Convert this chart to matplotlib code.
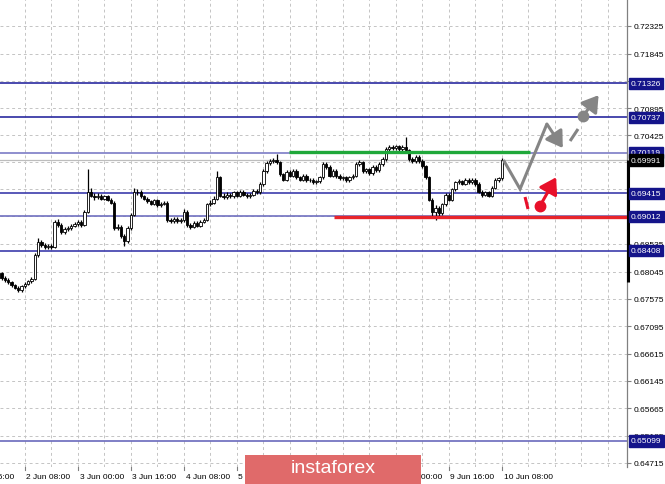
import matplotlib
matplotlib.use("Agg")
import matplotlib.pyplot as plt
from matplotlib.transforms import blended_transform_factory
from matplotlib.patches import Rectangle, FancyArrowPatch

# ---------------- data ----------------
first_open = 0.6802
closes = [
    0.6793, 0.6790, 0.6786, 0.6781, 0.6777, 0.6772, 0.6779, 0.6784, 0.6788, 0.6792,
    0.6834, 0.6857, 0.6851, 0.6848, 0.6849, 0.6848, 0.6892, 0.6886, 0.6874, 0.6879,
    0.6881, 0.6885, 0.6888, 0.6892, 0.6886, 0.6909, 0.6944, 0.6937, 0.6934, 0.6937,
    0.6932, 0.6936, 0.6930, 0.6925, 0.6881, 0.6883, 0.6867, 0.6858, 0.6881, 0.6904,
    0.6943, 0.6944, 0.6936, 0.6932, 0.6927, 0.6923, 0.6929, 0.6920, 0.6923, 0.6925,
    0.6895, 0.6893, 0.6897, 0.6893, 0.6895, 0.6909, 0.6886, 0.6883, 0.6890, 0.6885,
    0.6892, 0.6895, 0.6922, 0.6925, 0.6932, 0.6969, 0.6937, 0.6934, 0.6939, 0.6936,
    0.6943, 0.6937, 0.6944, 0.6939, 0.6936, 0.6939, 0.6946, 0.6943, 0.6957, 0.6980,
    0.6994, 0.6997, 0.6999, 0.6995, 0.6974, 0.6965, 0.6978, 0.6972, 0.6980, 0.6969,
    0.6965, 0.6972, 0.6964, 0.6965, 0.6960, 0.6962, 0.6969, 0.6992, 0.6987, 0.6972,
    0.6980, 0.6971, 0.6967, 0.6969, 0.6964, 0.6969, 0.6972, 0.6992, 0.6995, 0.6980,
    0.6983, 0.6976, 0.6987, 0.6981, 0.6992, 0.7001, 0.7018, 0.7022, 0.7020, 0.7023,
    0.7018, 0.7022, 0.7016, 0.7001, 0.6997, 0.7004, 0.6997, 0.6988, 0.6969, 0.6930,
    0.6909, 0.6916, 0.6906, 0.6922, 0.6939, 0.6930, 0.6948, 0.6960, 0.6962, 0.6958,
    0.6964, 0.6960, 0.6965, 0.6957, 0.6944, 0.6939, 0.6943, 0.6937, 0.6951, 0.6964,
    0.6967, 0.69991,
]
highs = [
    0.6804, 0.6797, 0.6793, 0.6789, 0.6784, 0.6780, 0.6782, 0.6787, 0.6791, 0.6795,
    0.6837, 0.6864, 0.6860, 0.6855, 0.6853, 0.6852, 0.6895, 0.6896, 0.6889, 0.6882,
    0.6884, 0.6888, 0.6891, 0.6895, 0.6895, 0.6912, 0.6983, 0.6950, 0.6941, 0.6941,
    0.6940, 0.6939, 0.6939, 0.6933, 0.6928, 0.6887, 0.6886, 0.6870, 0.6884, 0.6907,
    0.6951, 0.6949, 0.6947, 0.6939, 0.6935, 0.6930, 0.6932, 0.6932, 0.6926, 0.6928,
    0.6928, 0.6898, 0.6900, 0.6900, 0.6898, 0.6913, 0.6912, 0.6889, 0.6893, 0.6893,
    0.6895, 0.6898, 0.6925, 0.6929, 0.6936, 0.6980, 0.6972, 0.6941, 0.6943, 0.6942,
    0.6946, 0.6946, 0.6947, 0.6947, 0.6942, 0.6942, 0.6949, 0.6949, 0.6960, 0.6983,
    0.6997, 0.7001, 0.7003, 0.7009, 0.6998, 0.6977, 0.6981, 0.6981, 0.6983, 0.6983,
    0.6972, 0.6975, 0.6975, 0.6968, 0.6968, 0.6965, 0.6972, 0.6995, 0.6996, 0.6990,
    0.6983, 0.6983, 0.6974, 0.6972, 0.6972, 0.6972, 0.6975, 0.6995, 0.6999, 0.6998,
    0.6986, 0.6986, 0.6990, 0.6990, 0.6995, 0.7004, 0.7021, 0.7026, 0.7025, 0.7026,
    0.7026, 0.7025, 0.7040, 0.7019, 0.7004, 0.7007, 0.7007, 0.7000, 0.6991, 0.6972,
    0.6933, 0.6920, 0.6919, 0.6925, 0.6942, 0.6942, 0.6951, 0.6963, 0.6966, 0.6965,
    0.6967, 0.6967, 0.6968, 0.6968, 0.6960, 0.6947, 0.6946, 0.6946, 0.6954, 0.6967,
    0.6970, 0.7003,
]
lows = [
    0.6790, 0.6787, 0.6783, 0.6778, 0.6774, 0.6769, 0.6770, 0.6776, 0.6782, 0.6785,
    0.6790, 0.6831, 0.6848, 0.6845, 0.6845, 0.6844, 0.6846, 0.6883, 0.6871, 0.6871,
    0.6876, 0.6878, 0.6882, 0.6885, 0.6883, 0.6884, 0.6907, 0.6934, 0.6930, 0.6931,
    0.6929, 0.6929, 0.6927, 0.6922, 0.6878, 0.6877, 0.6864, 0.6850, 0.6855, 0.6878,
    0.6901, 0.6939, 0.6933, 0.6929, 0.6924, 0.6920, 0.6920, 0.6917, 0.6917, 0.6920,
    0.6892, 0.6890, 0.6890, 0.6890, 0.6890, 0.6892, 0.6883, 0.6879, 0.6880, 0.6882,
    0.6882, 0.6889, 0.6893, 0.6919, 0.6922, 0.6929, 0.6934, 0.6931, 0.6931, 0.6933,
    0.6933, 0.6934, 0.6934, 0.6936, 0.6933, 0.6933, 0.6936, 0.6940, 0.6940, 0.6954,
    0.6977, 0.6991, 0.6994, 0.6992, 0.6971, 0.6962, 0.6962, 0.6969, 0.6969, 0.6966,
    0.6962, 0.6962, 0.6961, 0.6961, 0.6957, 0.6957, 0.6959, 0.6966, 0.6984, 0.6969,
    0.6969, 0.6968, 0.6964, 0.6964, 0.6961, 0.6961, 0.6966, 0.6969, 0.6989, 0.6977,
    0.6977, 0.6973, 0.6973, 0.6978, 0.6978, 0.6989, 0.6998, 0.7015, 0.7017, 0.7017,
    0.7015, 0.7015, 0.7013, 0.6998, 0.6994, 0.6994, 0.6994, 0.6985, 0.6966, 0.6927,
    0.6900, 0.6895, 0.6901, 0.6903, 0.6919, 0.6927, 0.6927, 0.6945, 0.6957, 0.6955,
    0.6955, 0.6957, 0.6957, 0.6954, 0.6941, 0.6935, 0.6936, 0.6934, 0.6934, 0.6948,
    0.6961, 0.6964,
]
opens = [first_open] + closes[:-1]

level_prices = [0.71326, 0.70737, 0.70119, 0.69415, 0.69012, 0.68408, 0.65099]
level_labels = ["0.71326", "0.70737", "0.70119", "0.69415", "0.69012", "0.68408", "0.65099"]
current_price = 0.69991
current_label = "0.69991"

ytick_values = [0.72325, 0.71845, 0.71365, 0.70895, 0.70425, 0.69955, 0.69485, 0.69015,
                0.68535, 0.68045, 0.67575, 0.67095, 0.66615, 0.66145, 0.65665, 0.65185, 0.64715]
# labels fully hidden behind the level boxes are left blank
ytick_labels = ["0.72325", "0.71845", "", "0.70895", "0.70425", "", "0.69485",
                "", "0.68535", "0.68045", "0.67575", "0.67095", "0.66615", "0.66145",
                "0.65665", "0.65185", "0.64715"]

# time labels (those fully hidden under the watermark are left blank)
xtick_index = [-9, 7, 23, 39, 55, 71, 87, 103, 119, 135, 151]
xtick_labels = ["1 Jun 16:00", "2 Jun 08:00", "3 Jun 00:00", "3 Jun 16:00", "4 Jun 08:00",
                "5 Jun 00:00", "", "", "9 Jun 00:00", "9 Jun 16:00",
                "10 Jun 08:00"]

green_level = 0.70135
green_span = (86.7, 159.5)
red_level = 0.69005
red_span = (100.3, 189.0)

# forecast scenarios (candle index, price)
gray_path_x = [151.5, 156.5, 164.6]
gray_path_y = [0.6999, 0.69486, 0.70618]
gray_arrow_end = (169.4, 0.70200)
gray_dash_x = [171.6, 174.0]
gray_dash_y = [0.70322, 0.70531]
gray_dot = (175.5, 0.70758)
gray_dot_arrow = (180.2, 0.71120)

red_dash_x = [158.0, 158.9]
red_dash_y = [0.69347, 0.69138]
red_dot = (162.5, 0.6919)
red_dot_arrow = (167.4, 0.69690)

# ---------------- figure ----------------
W, H = 665, 485
fig = plt.figure(figsize=(W / 100, H / 100), dpi=100)
fig.patch.set_facecolor("white")
ax_right_px = 627
ax_bottom_px = 468
ax = fig.add_axes([0, (H - ax_bottom_px) / H, ax_right_px / W, ax_bottom_px / H])
ax.set_facecolor("white")

y_top = 0.72795
y_bot = 0.64645
ax.set_ylim(y_bot, y_top)
ax.set_xlim(-0.5, ax_right_px / 3.3125 - 0.5)

for s in ["top", "left", "bottom"]:
    ax.spines[s].set_visible(False)
ax.spines["right"].set_color("#808080")
ax.spines["right"].set_linewidth(0.9)

FONT = "Liberation Sans"

# y ticks on the right
ax.yaxis.tick_right()
ax.set_yticks(ytick_values)
ax.set_yticklabels(ytick_labels, fontsize=6, family=FONT, color="#000000")
ax.tick_params(axis="y", direction="out", length=3, width=0.8, color="#808080", pad=2)

# x ticks and grid
ax.set_xticks([])
grid_idx = list(range(-9, 190, 8))
for gx in grid_idx:
    ax.axvline(gx, color="#c4c4c4", lw=0.7, ls=(0, (3, 3)), zorder=1)
for gy in ytick_values:
    ax.axhline(gy, color="#c4c4c4", lw=0.7, ls=(0, (3, 3)), zorder=1)

trans_x = blended_transform_factory(ax.transData, ax.transAxes)
for xi, lab in zip(xtick_index, xtick_labels):
    ax.plot([xi, xi], [0, -0.007], transform=trans_x, color="#808080", lw=0.8, clip_on=False)
    if lab:
        dx = 0.5 if xi >= 0 else -0.6
        ax.text(xi + dx, -0.012, lab, transform=trans_x, ha="left", va="top",
                fontsize=6, family=FONT, color="#000000", clip_on=False)

# horizontal levels
level_colors = ["#2a2aa0", "#2a2aa0", "#7c7cc6", "#3c3cac", "#7070c0", "#3c3cac", "#6a6abc"]
for p, c in zip(level_prices, level_colors):
    ax.axhline(p, color=c, lw=1.2, zorder=2)
ax.axhline(current_price, color="#bdbdbd", lw=0.9, zorder=2)

# candles
idx = list(range(len(closes)))
ax.vlines(idx, lows, highs, color="#000000", lw=0.9, zorder=3)
for i, (o, c) in enumerate(zip(opens, closes)):
    bottom = min(o, c)
    height = max(abs(c - o), 0.00004)
    fc = "white" if c >= o else "black"
    ax.bar(i, height, bottom=bottom, width=0.72, color=fc, edgecolor="black", linewidth=0.6, zorder=4)

# green / red levels
ax.hlines(green_level, green_span[0], green_span[1], color="#1fa83a", lw=2.4, zorder=5)
ax.hlines(red_level, red_span[0], red_span[1], color="#e8242a", lw=2.4, zorder=5)

# forecast arrows
gray = "#858585"
red = "#e8102a"
astyle = "-|>,head_length=0.6,head_width=0.38"
ax.plot(gray_path_x, gray_path_y, color=gray, lw=2.2, solid_capstyle="butt",
        solid_joinstyle="miter", zorder=6)
ax.add_patch(FancyArrowPatch((gray_path_x[-1], gray_path_y[-1]), gray_arrow_end,
                             arrowstyle=astyle, mutation_scale=16,
                             color=gray, lw=2.2, shrinkA=0, shrinkB=0, zorder=6))
ax.plot(gray_dash_x, gray_dash_y, color=gray, lw=2.2, solid_capstyle="butt", zorder=6)
ax.plot(*gray_dot, "o", ms=7.5, color=gray, zorder=6)
ax.add_patch(FancyArrowPatch(gray_dot, gray_dot_arrow,
                             arrowstyle=astyle, mutation_scale=16,
                             color=gray, lw=2.2, shrinkA=0, shrinkB=0, zorder=6))

ax.plot(red_dash_x, red_dash_y, color=red, lw=2.2, solid_capstyle="butt", zorder=6)
ax.plot(*red_dot, "o", ms=7.5, color=red, zorder=6)
ax.add_patch(FancyArrowPatch(red_dot, red_dot_arrow,
                             arrowstyle=astyle, mutation_scale=16,
                             color=red, lw=2.2, shrinkA=0, shrinkB=0, zorder=6))

# right-side price boxes
trans_y = blended_transform_factory(ax.transAxes, ax.transData)
xbox = 1.0 + 4 / ax_right_px
for p, lab in zip(level_prices, level_labels):
    ax.text(xbox, p, lab, transform=trans_y, ha="left", va="center", fontsize=6, family=FONT,
            color="white", zorder=20, clip_on=False,
            bbox=dict(boxstyle="square,pad=0.25", fc="#14148a", ec="#14148a"))
ax.text(xbox, current_price, current_label, transform=trans_y, ha="left", va="center",
        fontsize=6, family=FONT, color="white", zorder=21, clip_on=False,
        bbox=dict(boxstyle="square,pad=0.25", fc="#000000", ec="#000000"))
ax.plot([1.0015, 1.0015], [current_price, 0.67867], transform=trans_y, color="black",
        lw=2.2, clip_on=False, zorder=19, solid_capstyle="butt")

# watermark
fig.patches.append(Rectangle((245 / W, 0), (421 - 245) / W, (485 - 456) / H,
                             transform=fig.transFigure, facecolor="#e06a6a", edgecolor="none",
                             zorder=30))
fig.text(333 / W, (485 - 469) / H, "instaforex", ha="center", va="center", color="white",
         fontsize=14, family=["Liberation Sans Narrow", "Liberation Sans", "DejaVu Sans"],
         zorder=31)

fig.savefig("out.png", dpi=100)
